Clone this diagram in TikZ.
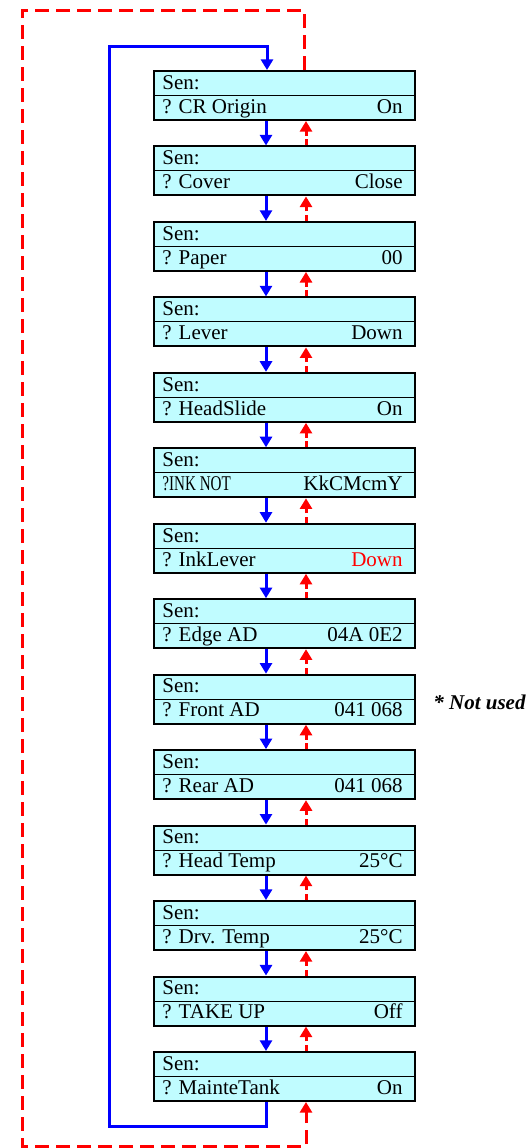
\documentclass[tikz,border=0pt]{standalone}
\usepackage{fontspec}
\setmainfont{Liberation Serif}
\usepackage{xcolor}
\usetikzlibrary{positioning, calc, arrows.meta}

\definecolor{lcdcyan}{RGB}{192,252,255}
\definecolor{fwdblue}{RGB}{0,0,255}
\definecolor{backred}{RGB}{255,0,0}

\tikzset{
  senbox/.style={draw, line width=1pt, fill=lcdcyan, minimum width=130.5pt,
    minimum height=24.5pt, inner sep=0pt},
  lcdtext/.style={anchor=base west, inner sep=0pt},
  lcdval/.style={anchor=base east, inner sep=0pt},
  fwd/.style={fwdblue, line width=1.5pt, -{Triangle[width=6pt,length=5.3pt]}},
  back/.style={backred, line width=1.5pt, dash pattern=on 7pt off 3.5pt,
    -{Triangle[width=6pt,length=5.3pt]}},
  backshort/.style={back, dash pattern=on 3pt off 1.8pt},
}

\begin{document}
\begin{tikzpicture}[x=0.5pt, y=-0.5pt, font=\fontsize{10.5}{12.6}\selectfont]

    % Page frame
    \useasboundingbox (0,0) rectangle (529,1148);

    % Sensor display boxes, one per line of the menu
    \foreach \name/\val [count=\k] in {
        ? CR Origin/On,
        ? Cover/Close,
        ? Paper/00,
        ? Lever/Down,
        ? HeadSlide/On,
        {\scalebox{0.72}[1]{?INK NOT}}/KkCMcmY,
        ? InkLever/{\textcolor{backred}{Down}},
        ? Edge AD/04A 0E2,
        ? Front AD/041 068,
        ? Rear AD/041 068,
        ? Head Temp/25°C,
        ? Drv. Temp/25°C,
        ? TAKE UP/Off,
        ? MainteTank/On} {
        \pgfmathsetmacro\cy{95.5+(\k-1)*75.46}
        \node[senbox] (s\k) at (284.5,\cy) {};
        \draw[line width=0.5pt] (s\k.west) -- (s\k.east);
        \node[lcdtext] (t\k) at ($(s\k.west)+(4.5pt,3.1pt)$) {Sen:};
        \node[lcdtext] (n\k) at ($(s\k.west)+(4.5pt,-8.9pt)$) {\name};
        \node[lcdval] (v\k) at ($(s\k.east)+(-6.5pt,-8.9pt)$) {\val};
    }

    % Note beside the Front AD box
    \node[anchor=base west, inner sep=0pt, font=\fontsize{10.5}{12.6}\selectfont\bfseries\itshape]
        (note) at (433,709) {* Not used};

    % Short arrows between neighbouring boxes: blue down, red dashed up
    \foreach \k [evaluate=\k as \j using int(\k+1)] in {1,...,13} {
        \draw[fwd] ([xshift=-9.25pt]s\k.south) -- ([xshift=-9.25pt]s\j.north);
        \draw[backshort] ([xshift=10.75pt]s\j.north) -- ([xshift=10.75pt]s\k.south);
    }

    % Blue return loop: last box back to the first one
    \coordinate (blbot) at (109,1126);
    \coordinate (bltop) at (109,46);
    \draw[fwd] ([xshift=-9.25pt]s14.south) |- (blbot) -- (bltop)
        -| ([xshift=-8.75pt]s1.north);

    % Red dashed return loop: first box back to the last one
    \coordinate (rdtop) at (22,10);
    \coordinate (rdbot) at (22,1146);
    \draw[back] ([xshift=9.75pt]s1.north) |- (rdtop) -- (rdbot)
        -| ([xshift=10.75pt]s14.south);

\end{tikzpicture}
\end{document}
